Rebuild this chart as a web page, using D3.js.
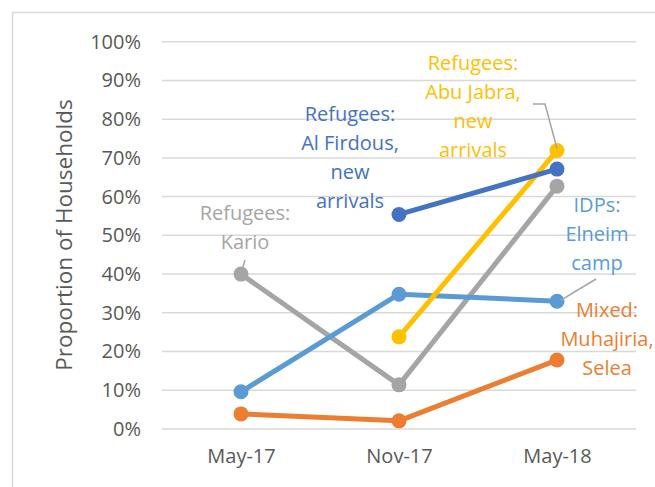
<!DOCTYPE html>
<html><head><meta charset="utf-8">
<script src="https://cdn.jsdelivr.net/npm/d3@7/dist/d3.min.js"></script>
<style>
html,body{margin:0;padding:0;background:#fff;}
svg{display:block;font-family:"Open Sans",Lato,sans-serif;}
</style></head><body>
<script>
const categories = ["May-17", "Nov-17", "May-18"];
const yTicks = [0, 0.1, 0.2, 0.3, 0.4, 0.5, 0.6, 0.7, 0.8, 0.9, 1.0];
const seriesNames = ["Refugees: Kario", "IDPs: Elneim camp", "Mixed: Muhajiria, Selea", "Refugees: Abu Jabra, new arrivals", "Refugees: Al Firdous, new arrivals"];
const kario = [0.40, 0.114, 0.627];
const elneim = [0.096, 0.348, 0.33];
const mixed = [0.039, 0.021, 0.178];
const abuJabra = [null, 0.238, 0.719];
const alFirdous = [null, 0.554, 0.671];
const seriesColors = ["#A5A5A5", "#5B9BD5", "#ED7D31", "#FFC000", "#4472C4"];
const seriesLabels = [
  ["Refugees:", "Kario"],
  ["IDPs:", "Elneim", "camp"],
  ["Mixed:", "Muhajiria,", "Selea"],
  ["Refugees:", "Abu Jabra,", "new", "arrivals"],
  ["Refugees:", "Al Firdous,", "new", "arrivals"]
];
const seriesValues = [kario, elneim, mixed, abuJabra, alFirdous];

const W = 655, H = 487;
const FONT = '"Open Sans",Lato,sans-serif';
const svg = d3.select("body").append("svg").attr("width", W).attr("height", H);

// chart border
svg.append("rect").attr("x", 12.5).attr("y", 12.5).attr("width", W).attr("height", H)
  .attr("fill", "none").attr("stroke", "#D9D9D9").attr("stroke-width", 1.5);

const x = d3.scalePoint().domain(categories).range([162, 636]).padding(0.5);
const y = d3.scaleLinear().domain([0, 1]).range([429, 41.7]);

// gridlines
svg.append("g").selectAll("line").data(yTicks).join("line")
  .attr("x1", 162).attr("x2", 636)
  .attr("y1", d => y(d)).attr("y2", d => y(d))
  .attr("stroke", "#D9D9D9").attr("stroke-width", 1.5);

// y axis
const yAxis = d3.axisLeft(y).tickValues(yTicks).tickFormat(d3.format(".0%")).tickSize(0).tickPadding(0);
const gy = svg.append("g").attr("transform", "translate(141,0)").call(yAxis);
gy.select(".domain").remove();
gy.selectAll("text").attr("fill", "#595959").attr("font-size", 20).attr("font-family", FONT);

// x axis
const xAxis = d3.axisBottom(x).tickSize(0).tickPadding(0);
const gx = svg.append("g").attr("transform", "translate(0,449)").call(xAxis);
gx.select(".domain").remove();
gx.selectAll("text").attr("fill", "#595959").attr("font-size", 20).attr("font-family", FONT);

// y title
svg.append("text").attr("transform", "translate(72,235) rotate(-90)")
  .attr("text-anchor", "middle").attr("fill", "#595959").attr("font-size", 22.5)
  .text("Proportion of Households");

// lines + markers
const line = d3.line().defined(d => d.v != null).x(d => x(d.c)).y(d => y(d.v));
seriesValues.forEach((vals, i) => {
  const pts = vals.map((v, j) => ({c: categories[j], v}));
  const g = svg.append("g");
  g.append("path").datum(pts).attr("d", line).attr("fill", "none")
    .attr("stroke", seriesColors[i]).attr("stroke-width", 5).attr("stroke-linejoin", "round");
  g.selectAll("circle").data(pts.filter(d => d.v != null)).join("circle")
    .attr("cx", d => x(d.c)).attr("cy", d => y(d.v)).attr("r", 7.5)
    .attr("fill", seriesColors[i]);
});

// leader lines (anchored to data points)
const leaders = [
  {pts: [[245, 260], [x("May-17") + 1, y(kario[0]) - 4]]},
  {pts: [[533, 104], [545, 104], [x("May-18"), y(abuJabra[2]) - 2]]},
  {pts: [[596, 279], [x("May-18") + 4, y(elneim[2]) - 1]]}
];
leaders.forEach(l => {
  svg.append("path").attr("d", d3.line()(l.pts)).attr("fill", "none")
    .attr("stroke", "#A5A5A5").attr("stroke-width", 1.5);
});

// data labels
const labelPos = [
  {x: 245, y: 213},
  {x: 597, y: 205},
  {x: 607, y: 310},
  {x: 473, y: 63},
  {x: 350, y: 114}
];
seriesLabels.forEach((lines, i) => {
  const t = svg.append("text").attr("text-anchor", "middle").attr("fill", seriesColors[i])
    .attr("font-size", 20);
  lines.forEach((s, k) => {
    t.append("tspan").attr("x", labelPos[i].x).attr("y", labelPos[i].y + k * 29)
      .attr("dy", "0.35em").text(s);
  });
});
</script>
</body></html>
